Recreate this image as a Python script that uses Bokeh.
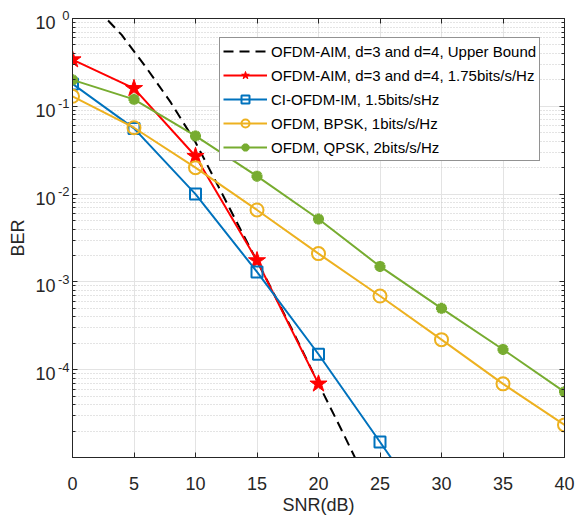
from bokeh.plotting import figure
from bokeh.models import FixedTicker, LinearAxis, LogAxis, Range1d, CustomJSTickFormatter
from bokeh.embed import file_html
from bokeh.resources import INLINE

# ---------------- data ----------------
snr = [0, 5, 10, 15, 20, 25, 30, 35, 40]

ub_snr = [2, 4, 6, 8, 10, 12, 14, 16, 18, 20, 22, 24]
ub_ber = [1.29, 0.65, 0.275, 0.11, 0.039, 0.0112, 3.2e-3, 9.3e-4, 2.6e-4, 6.9e-5, 1.9e-5, 5e-6]

aim_snr = [0, 5, 10, 15, 20]
aim_ber = [0.34, 0.16, 0.027, 1.75e-3, 6.9e-5]

ci_snr = [0, 5, 10, 15, 20, 25, 30]
ci_ber = [0.18, 0.056, 0.01, 1.3e-3, 1.5e-4, 1.5e-5, 1.5e-6]

bpsk_ber = [0.13, 0.057, 0.02, 6.6e-3, 2.1e-3, 6.9e-4, 2.2e-4, 6.9e-5, 2.35e-5]
qpsk_ber = [0.2, 0.12, 0.046, 0.016, 5.2e-3, 1.5e-3, 5e-4, 1.7e-4, 5.6e-5]

names = ["OFDM-AIM, d=3 and d=4, Upper Bound",
         "OFDM-AIM, d=3 and d=4, 1.75bits/s/Hz",
         "CI-OFDM-IM, 1.5bits/sHz",
         "OFDM, BPSK, 1bits/s/Hz",
         "OFDM, QPSK, 2bits/s/Hz"]

x_ticks = [0, 5, 10, 15, 20, 25, 30, 35, 40]
y_label_vals = [1e-4, 1e-3, 1e-2, 1e-1, 1]
y_label_base = ["10", "10", "10", "10", "10"]
y_label_exps = ["-4", "-3", "-2", "-1", "0"]

FONT = "Liberation Sans"
TXT = "#262626"

p = figure(width=575, height=518, output_backend="svg", toolbar_location=None,
           y_axis_type="log", x_range=Range1d(0, 40), y_range=Range1d(1e-5, 1),
           min_border_left=72, min_border_right=11, min_border_top=18, min_border_bottom=61)
p.outline_line_color = TXT
p.outline_line_width = 1

minor = [m * d for d in [1e-5, 1e-4, 1e-3, 1e-2, 1e-1] for m in range(2, 10)]
yt = FixedTicker(ticks=y_label_vals, minor_ticks=minor)
xt = FixedTicker(ticks=x_ticks)

LOOKUP = """
let i = -1;
for (let k = 0; k < vals.length; k++) {
  if (Math.abs(Math.log10(vals[k]) - Math.log10(tick)) < 1e-6) { i = k; }
}
if (i < 0) { return ' '; }
"""
exp_fmt = CustomJSTickFormatter(args=dict(vals=y_label_vals, labs=y_label_exps),
                                code=LOOKUP + "return labs[i] + '\\n\\u00a0';")
base_fmt = CustomJSTickFormatter(args=dict(vals=y_label_vals, labs=y_label_base),
                                 code=LOOKUP + "return '\\u00a0\\n' + labs[i];")

# x axis (bottom)
for ax in p.xaxis:
    ax.ticker = xt
    ax.major_tick_in = 5
    ax.major_tick_out = 0
    ax.minor_tick_line_color = None
    ax.axis_line_color = TXT
    ax.major_tick_line_color = TXT
    ax.major_label_text_font = FONT
    ax.major_label_text_font_size = "18px"
    ax.major_label_text_color = TXT
    ax.major_label_standoff = 19
    ax.axis_label = "SNR(dB)"
    ax.axis_label_text_font = FONT
    ax.axis_label_text_font_size = "18px"
    ax.axis_label_text_font_style = "normal"
    ax.axis_label_text_color = TXT
    ax.axis_label_standoff = 2

# inner left axis: ticks + exponents
for ax in p.yaxis:
    ax.ticker = yt
    ax.formatter = exp_fmt
    ax.major_tick_in = 5
    ax.major_tick_out = 0
    ax.minor_tick_in = 3
    ax.minor_tick_out = 0
    ax.axis_line_color = TXT
    ax.major_tick_line_color = TXT
    ax.minor_tick_line_color = TXT
    ax.major_label_text_font = FONT
    ax.major_label_text_font_size = "13px"
    ax.major_label_text_line_height = 0.35
    ax.major_label_text_color = TXT
    ax.major_label_standoff = 3

# outer left axis: the "10" bases and the BER title
base_axis = LogAxis(ticker=yt, formatter=base_fmt, axis_line_color=None,
                    major_tick_line_color=None, minor_tick_line_color=None,
                    major_label_standoff=-7, major_label_text_font=FONT,
                    major_label_text_font_size="18px", major_label_text_color=TXT,
                    major_label_text_line_height=0.45,
                    axis_label="BER", axis_label_text_font=FONT,
                    axis_label_text_font_size="18px", axis_label_text_font_style="normal",
                    axis_label_text_color=TXT, axis_label_standoff=4)
p.add_layout(base_axis, "left")

top = LinearAxis(ticker=xt, major_tick_in=5, major_tick_out=0, minor_tick_line_color=None,
                 major_label_text_font_size="1px", major_label_text_color=None,
                 major_label_standoff=0,
                 axis_line_color=TXT, major_tick_line_color=TXT)
p.add_layout(top, "above")
right = LogAxis(ticker=yt, major_tick_in=5, major_tick_out=0, minor_tick_in=3, minor_tick_out=0,
                major_label_text_font_size="1px", major_label_text_color=None,
                major_label_standoff=0,
                axis_line_color=TXT, major_tick_line_color=TXT, minor_tick_line_color=TXT)
p.add_layout(right, "right")

# grid
p.xgrid.ticker = xt
p.xgrid.grid_line_color = "#e3e3e3"
p.ygrid.ticker = yt
p.ygrid.grid_line_color = "#e3e3e3"
p.ygrid.minor_grid_line_color = "#c8c8c8"
p.ygrid.minor_grid_line_dash = "1 2"

BLUE, YEL, GRN, RED = "#0072BD", "#EDB120", "#77AC30", "#FF0000"

p.line(ub_snr, ub_ber, color="black", line_width=2, line_dash="10 6", legend_label=names[0])

p.line(aim_snr, aim_ber, color=RED, line_width=2, legend_label=names[1])
p.scatter(aim_snr, aim_ber, marker="star", size=18, color=RED, legend_label=names[1])

p.line(ci_snr, ci_ber, color=BLUE, line_width=2, legend_label=names[2])
p.scatter(ci_snr, ci_ber, marker="square", size=11, line_color=BLUE, fill_color=None,
          line_width=2, legend_label=names[2])

p.line(snr, bpsk_ber, color=YEL, line_width=2, legend_label=names[3])
p.scatter(snr, bpsk_ber, marker="circle", size=13, line_color=YEL, fill_color=None,
          line_width=2, legend_label=names[3])

p.line(snr, qpsk_ber, color=GRN, line_width=2, legend_label=names[4])
p.scatter(snr, qpsk_ber, marker="asterisk", size=11, line_color=GRN, line_width=3.5,
          legend_label=names[4])

lg = p.legend[0]
lg.location = (147, 296)
lg.label_text_font = FONT
lg.label_text_font_size = "15px"
lg.label_text_color = "black"
lg.glyph_width = 44
lg.glyph_height = 20
lg.label_height = 20
lg.label_standoff = 4
lg.spacing = 4
lg.padding = 3
lg.margin = 0
lg.border_line_color = TXT
lg.border_line_width = 1
lg.background_fill_alpha = 1

open("out.html", "w").write(file_html(p, INLINE))
